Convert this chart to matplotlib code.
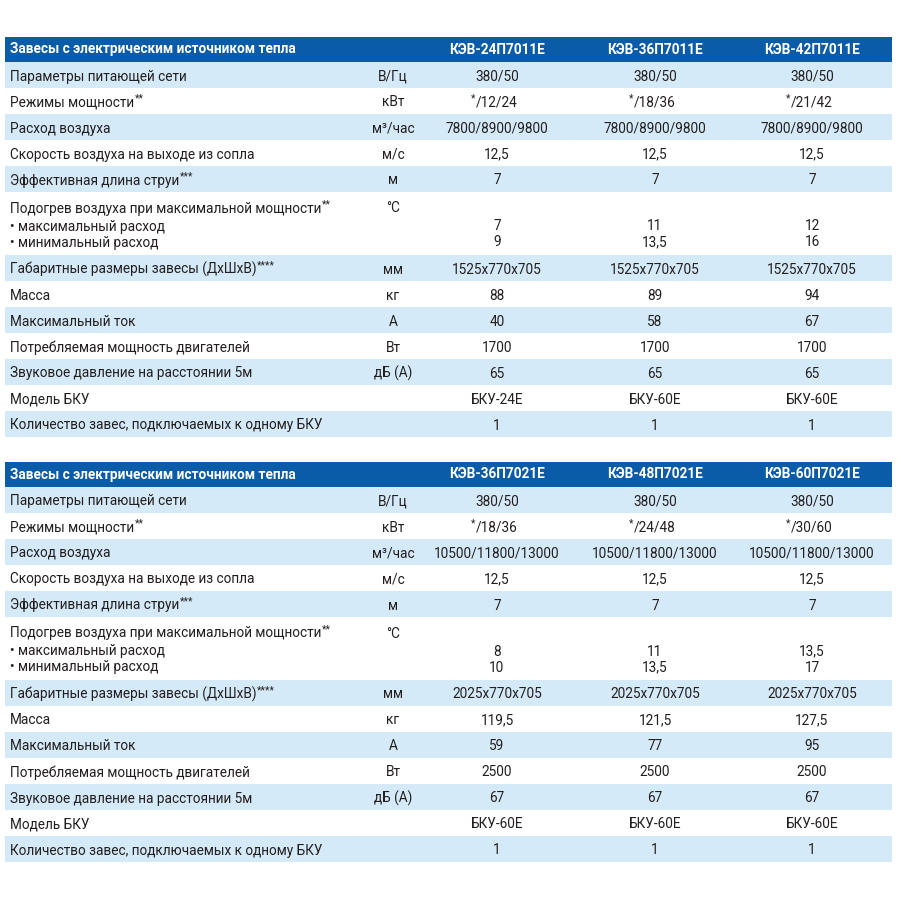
import matplotlib
matplotlib.use("Agg")
import matplotlib.pyplot as plt
from matplotlib.patches import Rectangle

plt.rcParams['font.family'] = ['Roboto', 'DejaVu Sans']

# table data
title = "Завесы с электрическим источником тепла"
row_labels = [
    "Параметры питающей сети",
    "Режимы мощности**",
    "Расход воздуха",
    "Скорость воздуха на выходе из сопла",
    "Эффективная длина струи***",
    "Подогрев воздуха при максимальной мощности**\n• максимальный расход\n• минимальный расход",
    "Габаритные размеры завесы (ДхШхВ)****",
    "Масса",
    "Максимальный ток",
    "Потребляемая мощность двигателей",
    "Звуковое давление на расстоянии 5м",
    "Модель БКУ",
    "Количество завес, подключаемых к одному БКУ",
]
units = ["В/Гц", "кВт", "м³/час", "м/с", "м", "°C", "мм", "кг", "А", "Вт", "дБ (А)", "", ""]

models_1 = ["КЭВ-24П7011Е", "КЭВ-36П7011Е", "КЭВ-42П7011Е"]
values_1 = [
    ["380/50", "380/50", "380/50"],
    ["*/12/24", "*/18/36", "*/21/42"],
    ["7800/8900/9800", "7800/8900/9800", "7800/8900/9800"],
    ["12,5", "12,5", "12,5"],
    ["7", "7", "7"],
    ["7\n9", "11\n13,5", "12\n16"],
    ["1525x770x705", "1525x770x705", "1525x770x705"],
    ["88", "89", "94"],
    ["40", "58", "67"],
    ["1700", "1700", "1700"],
    ["65", "65", "65"],
    ["БКУ-24Е", "БКУ-60Е", "БКУ-60Е"],
    ["1", "1", "1"],
]

models_2 = ["КЭВ-36П7021Е", "КЭВ-48П7021Е", "КЭВ-60П7021Е"]
values_2 = [
    ["380/50", "380/50", "380/50"],
    ["*/18/36", "*/24/48", "*/30/60"],
    ["10500/11800/13000", "10500/11800/13000", "10500/11800/13000"],
    ["12,5", "12,5", "12,5"],
    ["7", "7", "7"],
    ["8\n10", "11\n13,5", "13,5\n17"],
    ["2025x770x705", "2025x770x705", "2025x770x705"],
    ["119,5", "121,5", "127,5"],
    ["59", "77", "95"],
    ["2500", "2500", "2500"],
    ["67", "67", "67"],
    ["БКУ-60Е", "БКУ-60Е", "БКУ-60Е"],
    ["1", "1", "1"],
]

HEADER_BLUE = "#0b5ca8"
LIGHT_BLUE = "#d5eaf8"
TEXT = "#231f20"

x_left, x_right = 5, 892
x_unit = 393
col_x = [497, 655, 812]
row_h = 26
tall_h = 63
fs = 9.8

fig = plt.figure(figsize=(9, 9), dpi=100)
ax = fig.add_axes([0, 0, 1, 1])
ax.set_xlim(0, 900)
ax.set_ylim(900, 0)
ax.axis("off")
renderer = fig.canvas.get_renderer()


def put(x, y, s, ha="left"):
    # asterisks are drawn small and raised, like footnote marks
    lead = len(s) - len(s.lstrip("*"))
    trail = len(s) - len(s.rstrip("*"))
    core = s.strip("*")
    t = ax.text(x, y, core, color=TEXT, fontsize=fs, va="center_baseline", ha=ha)
    bb = t.get_window_extent(renderer).transformed(ax.transData.inverted())
    x0, x1 = min(bb.x0, bb.x1), max(bb.x0, bb.x1)
    if trail:
        ax.text(x1 + 0.5, y - 3.5, "*" * trail, color=TEXT, fontsize=fs * 0.75,
                va="center_baseline", ha="left")
    if lead:
        ax.text(x0 - 0.3, y - 3.5, "*" * lead, color=TEXT, fontsize=fs * 0.75,
                va="center_baseline", ha="right")


def draw_table(top, models, values):
    # header
    ax.add_patch(Rectangle((x_left, top), x_right - x_left, 25, color=HEADER_BLUE, lw=0))
    ax.text(10, top + 12.5, title, color="white", fontsize=fs, fontweight="bold",
            va="center", ha="left")
    for cx, m in zip(col_x, models):
        ax.text(cx, top + 12.5, m, color="white", fontsize=fs, fontweight="bold",
                va="center", ha="center")

    y = top + 25
    for i, (lab, unit, vals) in enumerate(zip(row_labels, units, values)):
        h = tall_h if "\n" in lab else row_h
        if i % 2 == 0:
            ax.add_patch(Rectangle((x_left, y), x_right - x_left, h, color=LIGHT_BLUE, lw=0))
        if h == tall_h:
            ys = [y + 15, y + 33, y + 49]
            for ln, yy in zip(lab.split("\n"), ys):
                put(10, yy, ln)
            put(x_unit, ys[0], unit, "center")
            for cx, v in zip(col_x, vals):
                for vv, yy in zip(v.split("\n"), ys[1:]):
                    put(cx, yy, vv, "center")
        else:
            yc = y + h / 2
            put(10, yc, lab)
            put(x_unit, yc, unit, "center")
            for cx, v in zip(col_x, vals):
                put(cx, yc, v, "center")
        y += h


draw_table(37, models_1, values_1)
draw_table(462, models_2, values_2)

fig.savefig("out.png", dpi=100, facecolor="white")
